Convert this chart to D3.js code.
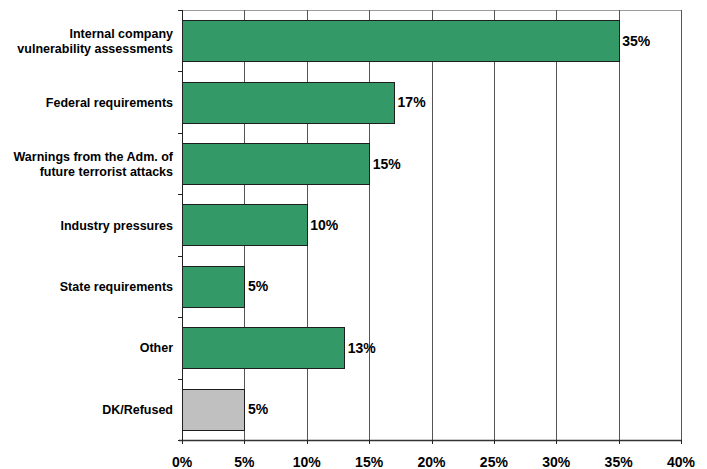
<!DOCTYPE html>
<html><head><meta charset="utf-8">
<script src="https://cdn.jsdelivr.net/npm/d3@7"></script>
<style>body{margin:0;background:#fff;} text{font-family:Arial,"Liberation Sans",sans-serif;font-weight:bold;fill:#000;}</style>
</head><body>
<svg id="c" width="707" height="469"></svg>
<script>
const categories = [["Internal company","vulnerability assessments"],["Federal requirements"],["Warnings from the Adm. of","future terrorist attacks"],["Industry pressures"],["State requirements"],["Other"],["DK/Refused"]];
const values = [35,17,15,10,5,13,5];
const barColors = ["#339966","#339966","#339966","#339966","#339966","#339966","#C0C0C0"];
const xTicks = [0,5,10,15,20,25,30,35,40];

(function(){
const svg = d3.select("#c");
const mLeft = 182, mRight = 681, mTop = 10, mBottom = 440;
const x = d3.scaleLinear().domain([0,40]).range([mLeft,mRight]);
const idx = d3.range(categories.length);
const y = d3.scaleBand().domain(idx).range([mTop,mBottom]).paddingInner(0.33).paddingOuter(0.165);
const step = y.step();
const px = v => Math.round(v)+0.5;

// top border
svg.append("line").attr("x1",mLeft).attr("x2",px(x(40))).attr("y1",mTop+0.5).attr("y2",mTop+0.5).attr("stroke","#9a9a9a");

// gridlines
svg.append("g").selectAll("line").data(xTicks.slice(1)).join("line")
  .attr("x1",d=>px(x(d))).attr("x2",d=>px(x(d)))
  .attr("y1",mTop).attr("y2",mBottom).attr("stroke","#555").attr("stroke-width",1);

// bars
svg.append("g").selectAll("rect").data(idx).join("rect")
  .attr("x",px(x(0))).attr("y",i=>px(y(i)))
  .attr("width",i=>Math.round(x(values[i]))-Math.round(x(0))).attr("height",Math.round(y.bandwidth()))
  .attr("fill",i=>barColors[i]).attr("stroke","#1e1e1e").attr("stroke-width",1);

// value labels
svg.append("g").selectAll("text").data(idx).join("text")
  .attr("x",i=>x(values[i])+3.5).attr("y",i=>y(i)+y.bandwidth()/2)
  .attr("dy","0.36em").attr("font-size","14px").text(i=>values[i]+"%");

// y axis
const yAxisG = svg.append("g");
yAxisG.append("line").attr("x1",px(mLeft)).attr("x2",px(mLeft)).attr("y1",mTop).attr("y2",mBottom).attr("stroke","#222");
yAxisG.selectAll("line.t").data(d3.range(categories.length+1)).join("line").attr("class","t")
  .attr("x1",mLeft-4).attr("x2",mLeft).attr("y1",i=>px(mTop+i*step)).attr("y2",i=>px(mTop+i*step)).attr("stroke","#222");

// category labels
const lab = svg.append("g").selectAll("text").data(idx).join("text")
  .attr("text-anchor","end").attr("font-size","12.5px")
  .attr("transform",i=>`translate(173,${y(i)+y.bandwidth()/2})`);
lab.each(function(i){
  const lines = categories[i];
  const n = lines.length;
  d3.select(this).selectAll("tspan").data(lines).join("tspan")
    .attr("x",0).attr("y",(d,j)=>(j-(n-1)/2)*15).attr("dy","0.36em").text(d=>d);
});

// x axis
const xAxisG = svg.append("g");
xAxisG.append("line").attr("x1",mLeft-3).attr("x2",px(mRight)).attr("y1",mBottom+0.5).attr("y2",mBottom+0.5).attr("stroke","#333").attr("stroke-width",1.5);
xAxisG.selectAll("line.t").data(xTicks).join("line").attr("class","t")
  .attr("x1",d=>px(x(d))).attr("x2",d=>px(x(d))).attr("y1",mBottom).attr("y2",mBottom+4).attr("stroke","#222");
xAxisG.selectAll("text").data(xTicks).join("text")
  .attr("x",d=>x(d)).attr("y",467).attr("text-anchor","middle").attr("font-size","14px").text(d=>d+"%");
})();
</script>
</body></html>
